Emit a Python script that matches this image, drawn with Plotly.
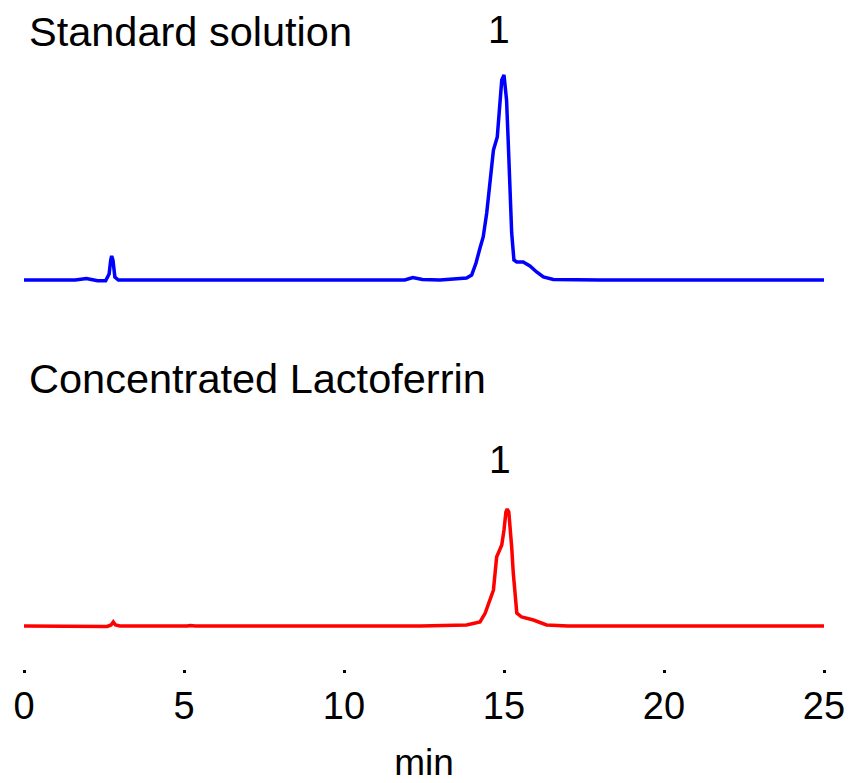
import plotly.graph_objects as go

# Standard solution chromatogram (time in min, detector response in arbitrary units)
std_time = [0, 1.6, 1.95, 2.1, 2.3, 2.55, 2.66, 2.71, 2.74, 2.78, 2.84, 2.95, 4.0, 11.9, 12.15, 12.45, 13.0,
            13.83, 13.99, 14.125, 14.25, 14.35, 14.46, 14.56, 14.67, 14.79, 14.875, 14.93, 15.0, 15.08,
            15.13, 15.19, 15.24, 15.31, 15.40, 15.60, 15.81, 16.02, 16.23, 16.54, 18.0, 25]
std_resp = [0, 0, 1.5, 0.5, -0.8, -0.8, 6, 20, 24, 20, 3, 0, 0, 0, 2.5, 0.5, 0,
            2, 5, 17, 32, 43, 67, 100, 130, 143, 173, 200, 205, 180,
            140, 90, 47, 20, 18, 18, 14, 8, 3, 0.5, 0, 0]

# Concentrated Lactoferrin chromatogram
lf_time = [0, 2.3, 2.6, 2.72, 2.79, 2.86, 3.0, 5.1, 5.2, 5.35, 12.0, 12.2, 12.4, 13.83, 14.25, 14.41, 14.56,
           14.67, 14.77, 14.875, 14.93, 15.0, 15.06, 15.10, 15.15, 15.24, 15.29, 15.40, 15.55, 15.92,
           16.33, 17.0, 25]
lf_resp = [0, 0, -0.5, 1, 4, 1, 0, 0, 0.5, 0, 0, 0.5, 0, 1, 4, 12.7, 26,
           36, 69, 76, 81, 96, 114, 117, 114, 79, 53, 13, 9, 6,
           1, 0, 0]

tick_vals = [0, 5, 10, 15, 20, 25]
tick_text = ["0", "5", "10", "15", "20", "25"]
peak_label = "1"
peak_time_std = 14.85
peak_time_lf = 14.87

FONT = "Liberation Sans, Arial, sans-serif"
OFF = 8            # page body margin offset
H_PLOT = 669.0 - OFF  # plot area height in px

def pf(py):
    # convert page pixel y to paper fraction
    return (H_PLOT - (py - OFF)) / H_PLOT

fig = go.Figure()
fig.add_trace(go.Scatter(x=std_time, y=std_resp, mode="lines",
                         line=dict(color="#0000FF", width=3.5), xaxis="x", yaxis="y2",
                         showlegend=False))
fig.add_trace(go.Scatter(x=lf_time, y=lf_resp, mode="lines",
                         line=dict(color="#FF0000", width=3.5), xaxis="x", yaxis="y",
                         showlegend=False))

fig.update_layout(
    width=852 - OFF, height=783 - OFF,
    margin=dict(l=24 - OFF, r=28, t=0, b=114, autoexpand=False),
    paper_bgcolor="white", plot_bgcolor="white",
    font=dict(family=FONT, color="black"),
    xaxis=dict(range=[0, 25], tickvals=tick_vals, ticktext=tick_text,
               ticks="outside", ticklen=3, tickwidth=3, tickcolor="black",
               showline=False, showgrid=False, zeroline=False, automargin=False,
               tickfont=dict(size=38, family=FONT, color="black"),
               title=dict(text="min", font=dict(size=37, family=FONT, color="black"), standoff=31),
               anchor="y"),
    yaxis=dict(domain=[0, pf(440)], range=[-43, 186], visible=False),
    yaxis2=dict(domain=[pf(300), pf(40)], range=[-20, 240], visible=False),
    annotations=[
        dict(text="Standard solution", xref="paper", yref="paper", x=(27 - 24) / 800, y=pf(31),
             xanchor="left", yanchor="middle", showarrow=False, font=dict(size=41.5, family=FONT)),
        dict(text="Concentrated Lactoferrin", xref="paper", yref="paper", x=(27 - 24) / 800, y=pf(379),
             xanchor="left", yanchor="middle", showarrow=False, font=dict(size=41.5, family=FONT)),
        dict(text=peak_label, xref="x", yref="paper", x=peak_time_std, y=pf(30),
             xanchor="center", yanchor="middle", showarrow=False, font=dict(size=39, family=FONT)),
        dict(text=peak_label, xref="x", yref="paper", x=peak_time_lf, y=pf(459),
             xanchor="center", yanchor="middle", showarrow=False, font=dict(size=39, family=FONT)),
    ],
)

fig.write_html("out.html")
